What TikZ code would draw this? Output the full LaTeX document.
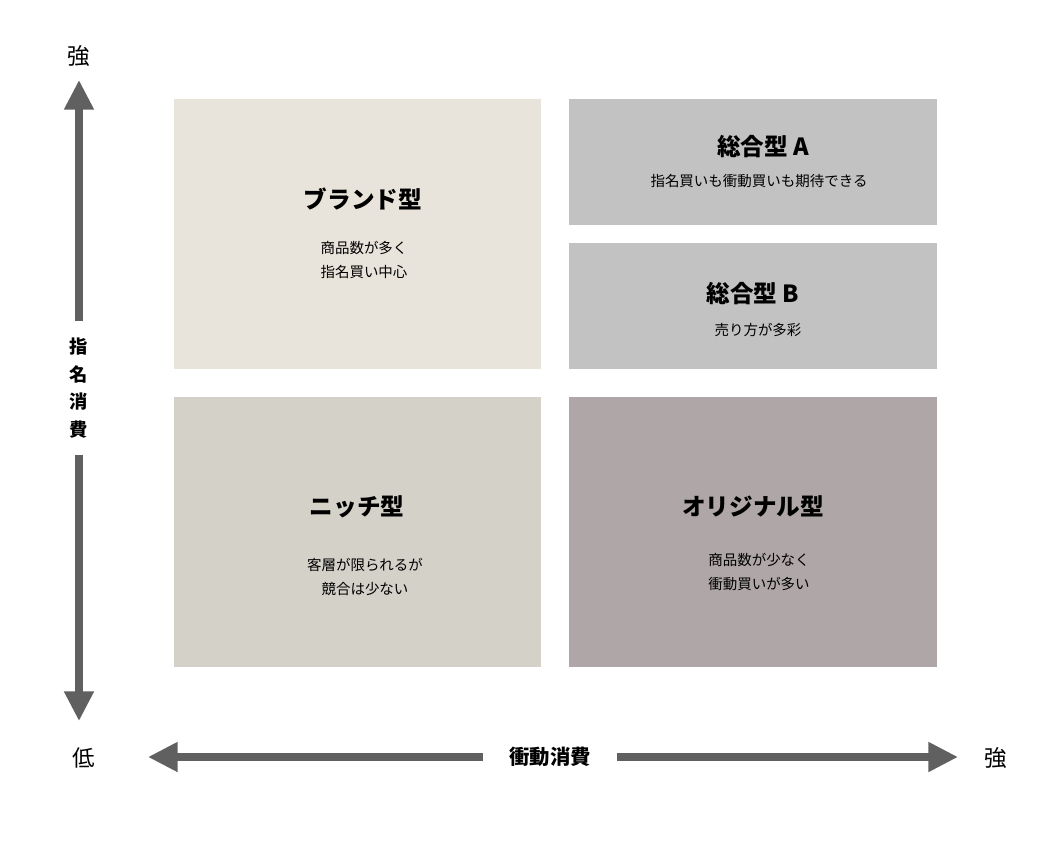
\documentclass[tikz,border=0pt]{standalone}
\usepackage{fontspec}
\setmainfont{Noto Sans CJK JP}
\usepackage{tikz}
\usepackage{xcolor}
\usetikzlibrary{arrows.meta}

\definecolor{brandc}{HTML}{E9E4DB}
\definecolor{sogoc}{HTML}{C2C2C2}
\definecolor{nichec}{HTML}{D4D1C9}
\definecolor{origc}{HTML}{AFA7A7}
\definecolor{axisc}{HTML}{606060}

\begin{document}
\begin{tikzpicture}[x=0.025cm, y=-0.025cm,
  bigbox/.style={fill=#1, minimum width=9.19cm, minimum height=6.75cm, inner sep=0pt},
  smallbox/.style={fill=sogoc, minimum width=9.2cm, minimum height=3.15cm, inner sep=0pt},
  title/.style={font=\fontsize{16.8}{18}\selectfont\bfseries},
  sub/.style={font=\fontsize{10.3}{16.5}\selectfont, align=center},
  axisarrow/.style={draw=axisc, line width=5pt, -{Triangle[length=21pt, width=20pt]}},
  axislabel/.style={font=\fontsize{16}{18}\selectfont}]
\useasboundingbox (0,0) rectangle (1046,850);

%% quadrants
\node[bigbox=brandc] (brand) at (357.5,234) {};
\node[smallbox] (sogoA) at (753,162) {};
\node[smallbox] (sogoB) at (753,306) {};
\node[bigbox=nichec] (niche) at (357.5,532) {};
\node[bigbox=origc] (orig) at (753,532) {};

%% texts
\node[title] (brandT) at (363,199) {ブランド型};
\node[sub] (brandS) at (364,260) {商品数が多く\\指名買い中心};
\node[title] (sogoAT) at (763,147) {総合型 A};
\node[sub] (sogoAS) at (759,181) {指名買いも衝動買いも期待できる};
\node[title] (sogoBT) at (753,294) {総合型 B};
\node[sub] (sogoBS) at (758,330) {売り方が多彩};
\node[title] (nicheT) at (357,507) {ニッチ型};
\node[sub] (nicheS) at (365,577) {客層が限られるが\\競合は少ない};
\node[title] (origT) at (753,506) {オリジナル型};
\node[sub] (origS) at (759,572) {商品数が少なく\\衝動買いが多い};

%% axes
\node[font=\fontsize{13}{19.5}\selectfont\bfseries, align=center, minimum height=3.35cm, inner sep=0pt] (vlab) at (79,388) {指\\名\\消\\費};
\coordinate (vtop) at (79,80);
\coordinate (vbot) at (79,721);
\draw[axisarrow] (vlab.north) -- (vtop);
\draw[axisarrow] (vlab.south) -- (vbot);
\node[font=\fontsize{14.5}{16}\selectfont\bfseries, minimum width=3.35cm, inner sep=0pt] (hlab) at (550,757) {衝動消費};
\coordinate (hleft) at (148,757);
\coordinate (hright) at (958,757);
\draw[axisarrow] (hlab.west) -- (hleft);
\draw[axisarrow] (hlab.east) -- (hright);

\node[axislabel] (vstrong) at (79,56) {強};
\node[axislabel] (low) at (84,758) {低};
\node[axislabel] (hstrong) at (996,758) {強};

\end{tikzpicture}
\end{document}
